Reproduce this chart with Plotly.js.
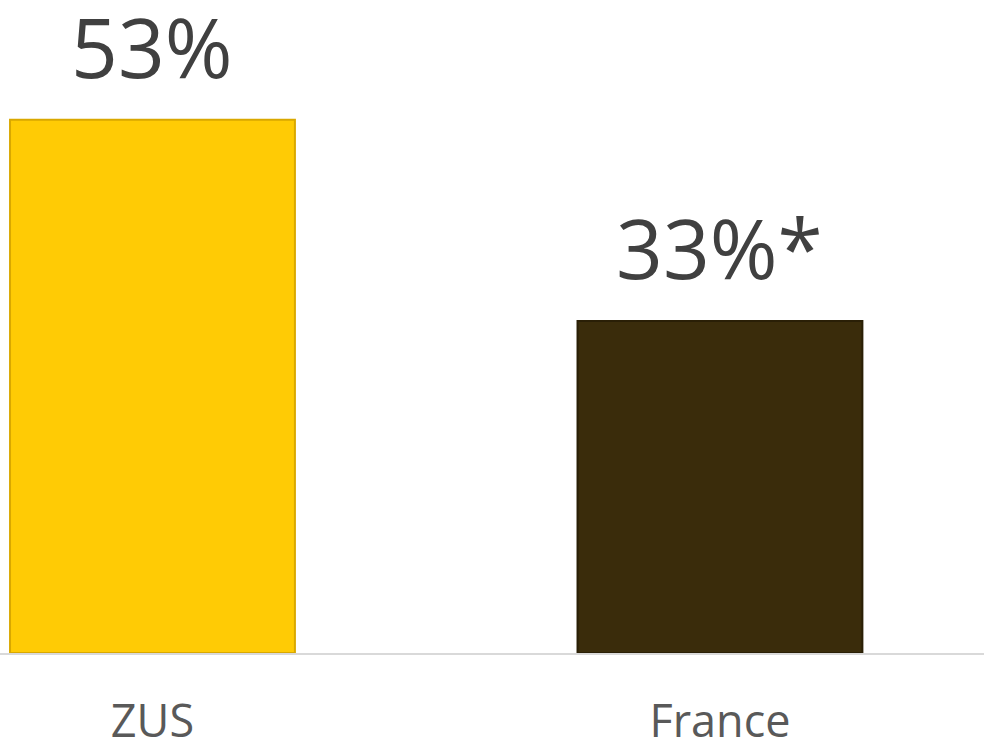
<!DOCTYPE html>
<html>
<head>
<meta charset="utf-8">
<script src="https://cdn.plot.ly/plotly-3.0.1.min.js"></script>
<style>html,body{margin:0;padding:0;background:#fff;}#chart{width:984px;height:744px;}</style>
</head>
<body>
<div id="chart"></div>
<script>
const categories = ["ZUS", "France"];
const values = [53, 33];
const valueLabels = ["53%", "33%*"];
const barColors = ["#FFCB05", "#3A2C0B"];
const barEdges = ["#D9A800", "#2A1F06"];

const trace = {
  type: "bar",
  x: categories,
  y: values,
  width: 0.502,
  marker: { color: barColors, line: { color: barEdges, width: 2 } },
  hoverinfo: "skip"
};

const annotations = categories.map((c, i) => ({
  x: c, y: values[i], xref: "x", yref: "y",
  text: valueLabels[i], showarrow: false,
  yanchor: "bottom", yshift: 17, borderpad: 0,
  font: { family: "Open Sans, sans-serif", size: 82, color: "#404040" }
}));

const layout = {
  width: 984, height: 744,
  margin: { l: 0, r: 0, t: 0, b: 91 },
  paper_bgcolor: "#ffffff", plot_bgcolor: "#ffffff",
  showlegend: false,
  xaxis: {
    range: [-0.2687, 1.4653],
    showline: true, linecolor: "#D9D9D9", linewidth: 2,
    ticks: "", showgrid: false, zeroline: false,
    tickfont: { family: "Open Sans, sans-serif", size: 45, color: "#595959" },
    ticklabelstandoff: 28
  },
  yaxis: { range: [0, 64.9], visible: false, showgrid: false, zeroline: false },
  annotations: annotations
};

Plotly.newPlot("chart", [trace], layout, { staticPlot: true, displayModeBar: false });
</script>
</body>
</html>
